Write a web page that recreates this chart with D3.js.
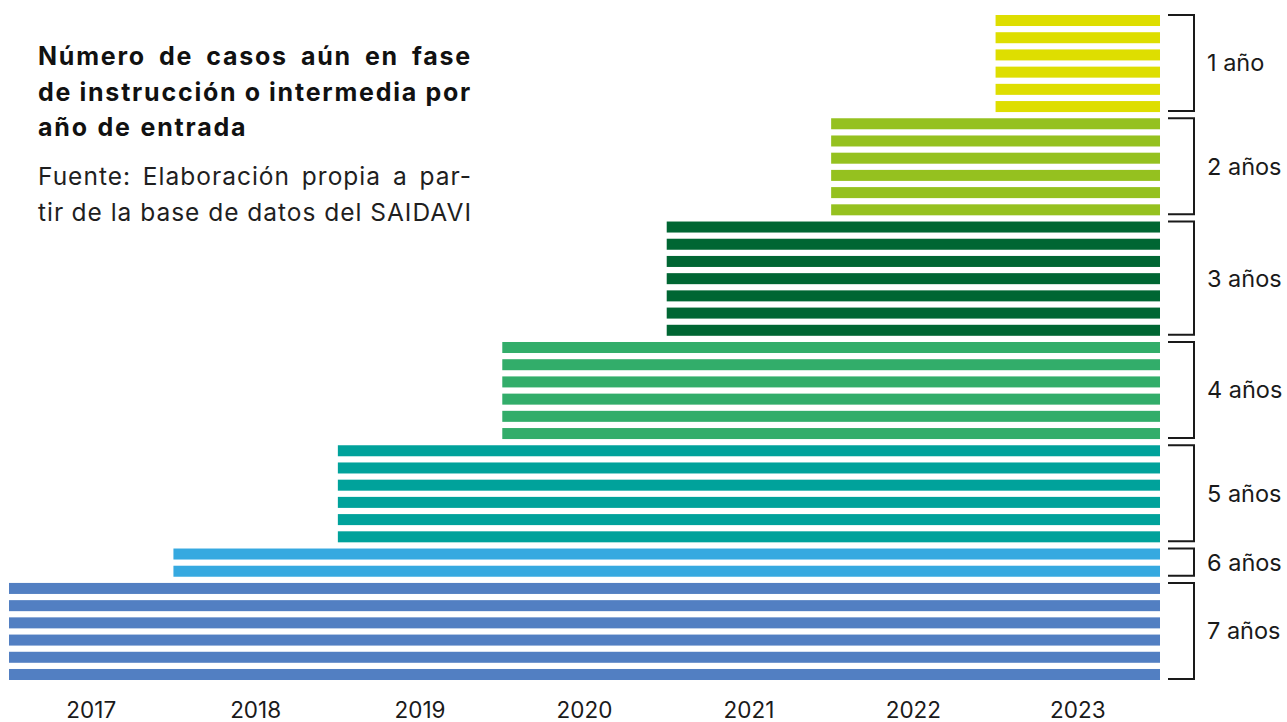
<!DOCTYPE html>
<html>
<head>
<meta charset="utf-8">
<script src="https://cdn.jsdelivr.net/npm/d3@7"></script>
<style>
  html, body { margin: 0; padding: 0; background: #ffffff; }
  svg { display: block; }
  text { font-family: Inter, "Liberation Sans", Arial, sans-serif; }
</style>
</head>
<body>
<svg id="chart" width="1287" height="722"></svg>
<script>
// Cases still open, grouped by how long they have been open
const groupLabels = ["1 año", "2 años", "3 años", "4 años", "5 años", "6 años", "7 años"];
const entryYears  = [2023, 2022, 2021, 2020, 2019, 2018, 2017];
const caseCounts  = [6, 6, 7, 6, 6, 2, 6];
const groupColors = ["#dede00", "#95c11f", "#006633", "#32ad6a", "#00a29b", "#36a9e0", "#527fc2"];
const yearTicks   = [2017, 2018, 2019, 2020, 2021, 2022, 2023];
const periodEnd   = 2024; // bars run through the end of 2023

const titleLines  = ["Número de casos aún en fase", "de instrucción o intermedia por", "año de entrada"];
const sourceLines = ["Fuente: Elaboración propia a par-", "tir de la base de datos del SAIDAVI"];

// one row per case
const cases = [];
groupLabels.forEach((g, gi) => {
  for (let k = 0; k < caseCounts[gi]; k++) {
    cases.push({ group: gi, start: entryYears[gi], end: periodEnd });
  }
});

const svg = d3.select("#chart");

const x = d3.scaleLinear().domain([yearTicks[0], periodEnd]).range([9, 1160]);
const y = d3.scaleBand()
  .domain(d3.range(cases.length))
  .range([15, 680])
  .paddingInner(0.36)
  .paddingOuter(0);

// bars
svg.append("g")
  .selectAll("rect")
  .data(cases)
  .join("rect")
  .attr("x", d => x(d.start))
  .attr("y", (d, i) => y(i))
  .attr("width", d => x(d.end) - x(d.start))
  .attr("height", y.bandwidth())
  .attr("fill", d => groupColors[d.group]);

// brackets + group labels
const groupsG = svg.append("g");
let idx = 0;
groupLabels.forEach((g, gi) => {
  const first = idx, last = idx + caseCounts[gi] - 1;
  idx += caseCounts[gi];
  const top = y(first);
  const bottom = y(last) + y.bandwidth() - 1;
  const bx0 = 1168, bx1 = 1194;
  groupsG.append("path")
    .attr("d", `M${bx0},${top}H${bx1}V${bottom}H${bx0}`)
    .attr("fill", "none")
    .attr("stroke", "#1a1a1a")
    .attr("stroke-width", 2);
  groupsG.append("text")
    .attr("x", 1207)
    .attr("y", (top + bottom) / 2)
    .attr("dy", "0.36em")
    .attr("font-size", 23.5)
    .attr("fill", "#1a1a1a")
    .text(g);
});

// year axis labels, centred under each year
const xAxis = d3.axisBottom(x)
  .tickValues(yearTicks)
  .tickFormat(d3.format("d"))
  .tickSize(0)
  .tickPadding(0);
const axisG = svg.append("g")
  .attr("transform", "translate(0,702)")
  .call(xAxis);
axisG.select(".domain").remove();
axisG.selectAll(".tick")
  .attr("transform", d => `translate(${(x(d) + x(d + 1)) / 2},0)`);
axisG.selectAll(".tick text")
  .attr("font-family", "Inter, Liberation Sans, Arial, sans-serif")
  .attr("font-size", 22.5)
  .attr("fill", "#1a1a1a")
  .attr("dy", "0.73em");

// letter-spacing that makes `str` run exactly the block width
function fitSpacing(str, size, weight, width) {
  const t = svg.append("text").attr("font-size", size).attr("font-weight", weight).text(str);
  const w = t.node().getComputedTextLength();
  t.remove();
  return (width - w) / (str.length - 1);
}

// one line of a justified text block
function textLine(str, x0, x1, baseline, opts, justify) {
  const t = svg.append("text")
    .attr("y", baseline)
    .attr("font-size", opts.size)
    .attr("font-weight", opts.weight)
    .attr("letter-spacing", opts.spacing)
    .attr("fill", opts.color);
  const words = str.split(" ");
  const spans = words.map(w => t.append("tspan").text(w));
  const widths = spans.map(s => s.node().getComputedTextLength());
  const total = d3.sum(widths);
  const natGap = opts.size * 0.28 + opts.spacing;
  const gap = justify && words.length > 1 ? (x1 - x0 - total) / (words.length - 1) : natGap;
  let cx = x0;
  spans.forEach((s, i) => {
    s.attr("x", cx);
    cx += widths[i] + gap;
  });
}

const blockX0 = 38, blockX1 = 472;

const titleOpts = { size: 25, weight: "bold", color: "#111111" };
titleOpts.spacing = fitSpacing(titleLines[1], titleOpts.size, titleOpts.weight, blockX1 - blockX0);
titleLines.forEach((l, i) => textLine(l, blockX0, blockX1, 65 + i * 35.7, titleOpts, i < titleLines.length - 1));

const srcOpts = { size: 24.5, weight: "normal", color: "#1f1f1f" };
srcOpts.spacing = fitSpacing(sourceLines[1], srcOpts.size, srcOpts.weight, blockX1 - blockX0);
sourceLines.forEach((l, i) => textLine(l, blockX0, blockX1, 185 + i * 35.5, srcOpts, true));
</script>
</body>
</html>
